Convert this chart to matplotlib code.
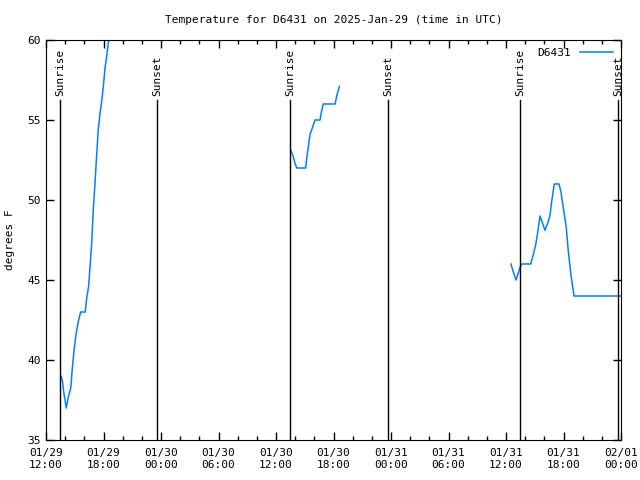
import pandas as pd
import matplotlib
matplotlib.use('Agg')
import matplotlib.pyplot as plt
import matplotlib.dates as mdates

# leituras da estacao D6431, em 3 trechos
times_1 = ['01-29 13:34', '01-29 13:42', '01-29 13:51', '01-29 13:59', '01-29 14:07',
           '01-29 14:20', '01-29 14:35', '01-29 14:45', '01-29 14:57', '01-29 15:08',
           '01-29 15:22', '01-29 15:37', '01-29 16:06', '01-29 16:15', '01-29 16:27',
           '01-29 16:46', '01-29 16:56', '01-29 17:07', '01-29 17:17', '01-29 17:27',
           '01-29 17:38', '01-29 17:49', '01-29 17:59', '01-29 18:09', '01-29 18:20',
           '01-29 18:30', '01-29 18:41']
temps_1 = [39.0, 38.75, 38.0, 37.5, 37.0,
           37.7, 38.25, 39.5, 40.75, 41.6,
           42.4, 43.0, 43.0, 43.9, 44.6,
           47.3, 49.4, 51.1, 52.75, 54.4,
           55.4, 56.2, 57.1, 58.2, 59.0,
           59.8, 60.8]

times_2 = ['01-30 13:34', '01-30 13:48', '01-30 13:59', '01-30 14:10', '01-30 15:06',
           '01-30 15:12', '01-30 15:22', '01-30 15:33', '01-30 15:44', '01-30 16:04',
           '01-30 16:36', '01-30 16:42', '01-30 16:56', '01-30 18:10', '01-30 18:20',
           '01-30 18:37']
temps_2 = [53.1, 52.7, 52.3, 52.0, 52.0,
           52.6, 53.3, 54.1, 54.4, 55.0,
           55.0, 55.4, 56.0, 56.0, 56.5,
           57.1]

times_3 = ['01-31 12:31', '01-31 12:46', '01-31 13:03', '01-31 13:13', '01-31 13:28',
           '01-31 13:38', '01-31 14:35', '01-31 14:51', '01-31 15:06', '01-31 15:19',
           '01-31 15:33', '01-31 15:47', '01-31 16:04', '01-31 16:19', '01-31 16:35',
           '01-31 16:46', '01-31 17:02', '01-31 17:32', '01-31 17:44', '01-31 17:59',
           '01-31 18:16', '01-31 18:30', '01-31 18:47', '01-31 19:06', '01-31 23:55']
temps_3 = [46.0, 45.5, 45.0, 45.3, 45.8,
           46.0, 46.0, 46.6, 47.2, 48.0,
           49.0, 48.6, 48.1, 48.5, 49.0,
           49.9, 51.0, 51.0, 50.5, 49.5,
           48.4, 46.8, 45.3, 44.0, 44.0]

sun_times = ['01-29 13:28', '01-29 23:35', '01-30 13:28', '01-30 23:41', '01-31 13:28', '01-31 23:41']
sun_labels = ['Sunrise', 'Sunset', 'Sunrise', 'Sunset', 'Sunrise', 'Sunset']


def to_dt(lst):
    return pd.to_datetime(['2025-' + t for t in lst])


font = 'DejaVu Sans Mono'
plt.rcParams['font.family'] = font
plt.rcParams['font.size'] = 8

fig = plt.figure(figsize=(6.4, 4.8), dpi=100)
ax = fig.add_axes([46 / 640, 40 / 480, 575 / 640, 400 / 480])

cor = '#0080ff'
ax.plot(to_dt(times_1), temps_1, color=cor, lw=1.1, label='D6431')
ax.plot(to_dt(times_2), temps_2, color=cor, lw=1.1)
ax.plot(to_dt(times_3), temps_3, color=cor, lw=1.1)

# linhas de nascer / por do sol
for t, lab in zip(to_dt(sun_times), sun_labels):
    ax.axvline(t, ymin=0, ymax=0.85, color='black', lw=1)
    ax.text(t, 56.5, lab, rotation=90, ha='center', va='bottom', fontsize=8)

ax.set_xlim(pd.Timestamp('2025-01-29 12:00'), pd.Timestamp('2025-02-01 00:00'))
ax.set_ylim(35, 60)
ax.set_yticks([35, 40, 45, 50, 55, 60])

ax.xaxis.set_major_locator(mdates.HourLocator(byhour=[0, 6, 12, 18]))
ax.xaxis.set_minor_locator(mdates.HourLocator(interval=2))
ax.xaxis.set_major_formatter(mdates.DateFormatter('%m/%d\n%H:%M'))

ax.tick_params(which='both', direction='in', top=True, right=True)
ax.tick_params(which='major', length=6, width=1)
ax.tick_params(which='minor', length=3, width=1)
ax.tick_params(axis='x', pad=6)

ax.set_ylabel('degrees F', labelpad=9)
ax.set_title('Temperature for D6431 on 2025-Jan-29 (time in UTC)', fontsize=8, pad=12)

ax.legend(loc='upper right', frameon=False, handlelength=3, markerfirst=False,
          borderaxespad=0.2, borderpad=0.5, fontsize=8)

fig.savefig('out.png', dpi=100)
